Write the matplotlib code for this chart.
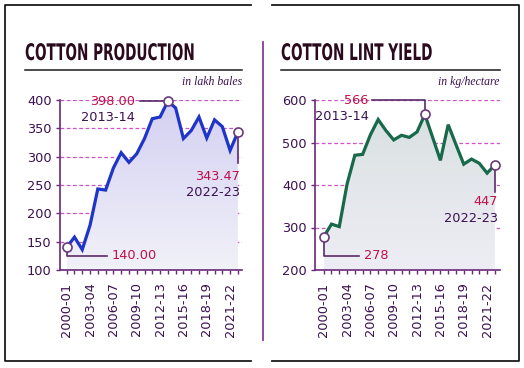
import numpy as np
import matplotlib
matplotlib.use("Agg")
from matplotlib import pyplot as plt
from matplotlib import patheffects
from matplotlib.colors import LinearSegmentedColormap
from matplotlib.lines import Line2D
from matplotlib.transforms import Affine2D

# data
seasons_idx = list(range(23))  # 2000-01 ... 2022-23
tick_pos = [0, 3, 6, 9, 12, 15, 18, 21]
tick_labels = ["2000-01", "2003-04", "2006-07", "2009-10",
               "2012-13", "2015-16", "2018-19", "2021-22"]
production = [140.00, 158, 136, 179, 243, 241, 280, 307, 290, 305, 332, 367,
              370, 398.00, 386, 332, 346, 370, 333, 365, 353, 311, 343.47]
lint_yield = [278, 308, 302, 402, 470, 472, 518, 554, 528, 506, 517, 512,
              525, 566, 512, 458, 542, 495, 449, 461, 451, 428, 447]

W, H = 524, 368
TXT = "#3b1050"
RED = "#c0104a"
CONN = "#5a2a6a"
GRID = "#cc55cc"


class Squeeze(patheffects.AbstractPathEffect):
    # reshape the glyphs (no condensed font installed)
    def __init__(self, sx, sy=1.0):
        super().__init__()
        self.sx, self.sy = sx, sy

    def draw_path(self, renderer, gc, tpath, affine, rgbFace=None):
        renderer.draw_path(gc, tpath, Affine2D().scale(self.sx, self.sy) + affine,
                           rgbFace)


def fx(x):
    return x / W


def fy(y):
    return 1 - y / H


fig = plt.figure(figsize=(W / 100, H / 100), dpi=100)
fig.patch.set_facecolor("white")


def fline(xs, ys, color="#1a1a1a", lw=1.3):
    fig.add_artist(Line2D([fx(v) for v in xs], [fy(v) for v in ys],
                          color=color, lw=lw, transform=fig.transFigure))


# panel frames
fline([251, 5, 5, 251], [5, 5, 361, 361])
fline([272, 519, 519, 272], [5, 5, 361, 361])
fline([263, 263], [42, 340], color="#8a3a9a", lw=1.3)


def panel(left, right, title, unit, title_x, vals, ylim, yticks, color,
          ctop, cbot, xlim):
    fig.text(fx(title_x), fy(60), title, fontsize=14.2, fontweight="bold",
             color="#2b0a1e", ha="left", va="baseline",
             path_effects=[Squeeze(0.69, 1.16)])
    fline([title_x, right], [70, 70], lw=1.1)
    fig.text(fx(right), fy(82), unit, fontsize=8.5, style="italic",
             family=["Liberation Serif", "DejaVu Serif"], color=TXT,
             ha="right", va="center")

    ax = fig.add_axes([fx(left), fy(270), fx(right) - fx(left), fy(100) - fy(270)])
    ax.set_facecolor("none")

    # gradient fill under the line
    poly = ax.fill_between(seasons_idx, vals, ylim[0], color="none", lw=0)
    cmap = LinearSegmentedColormap.from_list("g", [cbot, ctop])
    grad = np.linspace(0, 1, 256).reshape(-1, 1)
    img = ax.imshow(grad, extent=[0, 22, ylim[0], ylim[1]], origin="lower",
                    aspect="auto", cmap=cmap, zorder=1)
    img.set_clip_path(poly.get_paths()[0], transform=ax.transData)

    ax.plot(seasons_idx, vals, color=color, lw=2.3, zorder=3,
            solid_joinstyle="miter", clip_on=False)

    ax.set_xlim(*xlim)
    ax.set_ylim(*ylim)
    ax.set_yticks(yticks)
    ax.set_xticks(tick_pos)
    ax.set_xticklabels(tick_labels, rotation=90)
    ax.set_xticks(seasons_idx, minor=True)
    ax.tick_params(axis="both", which="both", direction="out", length=3,
                   width=1, color="#6a2a7a", labelcolor=TXT, labelsize=9.3)
    ax.tick_params(axis="x", which="major", pad=6)
    ax.tick_params(axis="y", pad=3)
    for s in ("top", "right"):
        ax.spines[s].set_visible(False)
    for s in ("left", "bottom"):
        ax.spines[s].set_color("#6a2a7a")
        ax.spines[s].set_linewidth(1.2)
    ax.yaxis.grid(True, linestyle=(0, (3, 2)), color=GRID, lw=0.9)
    ax.set_axisbelow(True)
    return ax


def circle(ax, x, y):
    ax.plot([x], [y], "o", ms=6.5, mfc="white", mec="#6a3a7a", mew=1.2,
            zorder=5, clip_on=False)


def conn(ax, xs, ys):
    ax.plot(xs, ys, color=CONN, lw=1.2, zorder=2, clip_on=False)


def label(ax, x, y, s, color, ha):
    ax.text(x, y, s, color=color, ha=ha, va="center", fontsize=9.3,
            clip_on=False, zorder=6)


# left: cotton production
ax1 = panel(60, 242, "COTTON PRODUCTION", "in lakh bales", 25, production,
            (100, 400), [100, 150, 200, 250, 300, 350, 400], "#1f35c8",
            "#d4d0f2", "#f1f1f8", (-0.86, 22.53))
conn(ax1, [9.4, 13], [398, 398])
label(ax1, 8.8, 398, "398.00", RED, "right")
label(ax1, 8.8, 370, "2013-14", TXT, "right")
conn(ax1, [0, 0, 5.2], [140, 125, 125])
label(ax1, 5.8, 125, "140.00", RED, "left")
conn(ax1, [22, 22], [343.47, 288])
label(ax1, 22.3, 264.6, "343.47", RED, "right")
label(ax1, 22.3, 236.4, "2022-23", TXT, "right")
circle(ax1, 0, production[0])
circle(ax1, 13, production[13])
circle(ax1, 22, production[22])

# right: cotton lint yield
ax2 = panel(315, 500, "COTTON LINT YIELD", "in kg/hectare", 281, lint_yield,
            (200, 600), [200, 300, 400, 500, 600], "#17694a",
            "#d8e0e0", "#eeedf5", (-1.12, 22.66))
conn(ax2, [6.2, 13, 13], [600, 600, 566])
label(ax2, 5.8, 600, "566", RED, "right")
label(ax2, 5.8, 560, "2013-14", TXT, "right")
conn(ax2, [0, 0, 4.5], [278, 233, 233])
label(ax2, 5.2, 233, "278", RED, "left")
conn(ax2, [22, 22], [447, 384])
label(ax2, 22.4, 360.7, "447", RED, "right")
label(ax2, 22.4, 321.6, "2022-23", TXT, "right")
circle(ax2, 0, lint_yield[0])
circle(ax2, 13, lint_yield[13])
circle(ax2, 22, lint_yield[22])

plt.savefig("out.png", dpi=100)
